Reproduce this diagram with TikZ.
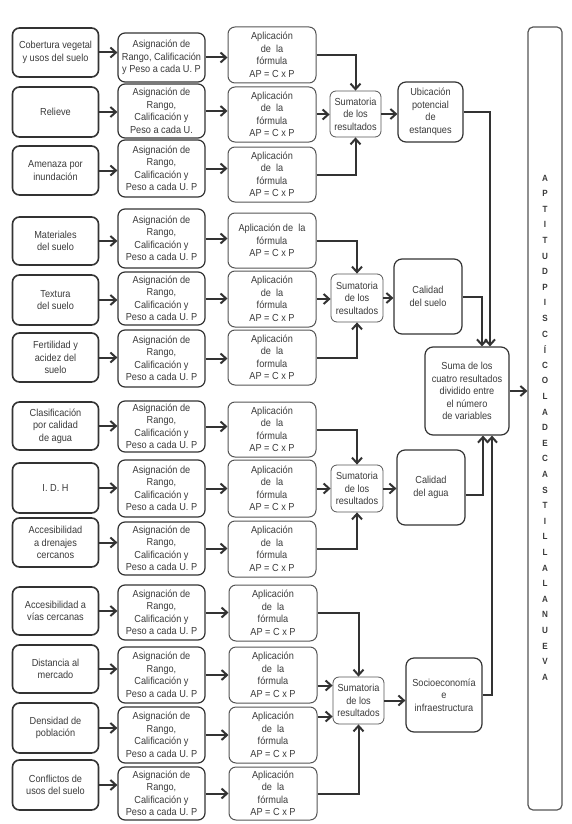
\documentclass[tikz,border=0pt]{standalone}
\usepackage{fontspec}
\setmainfont{Liberation Sans}[FakeStretch=0.9]
\usetikzlibrary{arrows.meta,calc}
\definecolor{lin}{HTML}{333333}
\definecolor{lin2}{HTML}{555555}
\definecolor{txt}{HTML}{3A3A3A}
\newcommand\asigtxt{Asignación de\\Rango,\\Calificación y\\Peso a cada U. P}
\newcommand\aplitxt{Aplicación\\de\ \ la\\fórmula\\AP = C x P}
% box from corner (x1,y1) to corner (x2,y2)
\newcommand\bx[7]{%
  \pgfmathsetmacro\bxw{#5-#3}\pgfmathsetmacro\bxh{#6-#4}%
  \pgfmathsetmacro\bxx{(#3+#5)/2}\pgfmathsetmacro\bxy{(#4+#6)/2}%
  \node[#1, minimum width=\bxw pt, minimum height=\bxh pt] (#2) at (\bxx,\bxy) {#7};}
\begin{document}
\begin{tikzpicture}[x=1pt,y=-1pt,
  every node/.style={font=\fontsize{10.2}{12.5}\selectfont, text=txt, align=center, inner sep=0pt},
  box/.style={draw=lin, rounded corners=7pt, line width=1pt},
  inbox/.style={box, line width=1.6pt},
  asbox/.style={box, line width=1.2pt},
  apbox/.style={box, draw=lin2, line width=1pt},
  sumbox/.style={box, draw=lin2, line width=0.8pt, rounded corners=6pt},
  resbox/.style={box, line width=1.2pt, rounded corners=8pt},
  bigbox/.style={box, draw=lin2, line width=1.2pt, rounded corners=5pt},
  letter/.style={font=\bfseries\fontsize{9}{10}\selectfont},
  arr/.style={draw=lin, line width=2pt, -{Straight Barb[length=5.5pt,width=10pt]}}]
\useasboundingbox (0,0) rectangle (571,824);

% ---- column 1: inputs
\bx{inbox}{i1}{12.5}{28}{98.5}{77}{Cobertura vegetal\\y usos del suelo}
\bx{inbox}{i2}{12.5}{87}{98.5}{137}{Relieve}
\bx{inbox}{i3}{12.5}{146}{98.5}{195}{Amenaza por\\inundación}
\bx{inbox}{i4}{12.5}{217}{98.5}{265}{Materiales\\del suelo}
\bx{inbox}{i5}{12.5}{275}{98.5}{325}{Textura\\del suelo}
\bx{inbox}{i6}{12.5}{333}{98.5}{382}{Fertilidad y\\acidez del\\suelo}
\bx{inbox}{i7}{12.5}{402}{98.5}{450}{Clasificación\\por calidad\\de agua}
\bx{inbox}{i8}{12.5}{463}{98.5}{513}{I. D. H}
\bx{inbox}{i9}{12.5}{518}{98.5}{567}{Accesibilidad\\a drenajes\\cercanos}
\bx{inbox}{i10}{12.5}{587}{98.5}{635}{Accesibilidad a\\vías cercanas}
\bx{inbox}{i11}{12.5}{645}{98.5}{693}{Distancia al\\mercado}
\bx{inbox}{i12}{12.5}{703}{98.5}{753}{Densidad de\\población}
\bx{inbox}{i13}{12.5}{760}{98.5}{810}{Conflictos de\\usos del suelo}

% ---- column 2: asignación
\bx{asbox}{a1}{118}{33}{205}{82}{Asignación de\\Rango, Calificación\\y Peso a cada U. P}
\bx{asbox}{a2}{118}{84}{205}{138}{Asignación de\\Rango,\\Calificación y\\Peso a cada U.}
\bx{asbox}{a3}{118}{140}{205}{197}{\asigtxt}
\bx{asbox}{a4}{118}{209}{205}{268}{\asigtxt}
\bx{asbox}{a5}{118}{272}{205}{325}{\asigtxt}
\bx{asbox}{a6}{118}{330}{205}{387}{\asigtxt}
\bx{asbox}{a7}{118}{401}{205}{452}{\asigtxt}
\bx{asbox}{a8}{118}{460}{205}{517}{\asigtxt}
\bx{asbox}{a9}{118}{522}{205}{575}{\asigtxt}
\bx{asbox}{a10}{118}{585}{205}{640}{\asigtxt}
\bx{asbox}{a11}{118}{647}{205}{703}{\asigtxt}
\bx{asbox}{a12}{118}{707}{205}{763}{\asigtxt}
\bx{asbox}{a13}{118}{767}{205}{820}{\asigtxt}

% ---- column 3: aplicación
\bx{apbox}{p1}{228}{27}{316}{83}{\aplitxt}
\bx{apbox}{p2}{228}{87}{316}{142}{\aplitxt}
\bx{apbox}{p3}{228}{147}{316}{202}{\aplitxt}
\bx{apbox}{p4}{228}{213}{316}{268}{Aplicación de\ \ la\\fórmula\\AP = C x P}
\bx{apbox}{p5}{228}{271}{316}{327}{\aplitxt}
\bx{apbox}{p6}{228}{330}{316}{385}{Aplicación\\de\ \ la\\formula\\AP = C x P}
\bx{apbox}{p7}{228}{402}{316}{457}{\aplitxt}
\bx{apbox}{p8}{228}{460}{316}{517}{\aplitxt}
\bx{apbox}{p9}{228}{521}{316}{577}{\aplitxt}
\bx{apbox}{p10}{229}{585}{317}{641}{\aplitxt}
\bx{apbox}{p11}{229}{647}{317}{703}{\aplitxt}
\bx{apbox}{p12}{229}{707}{317}{763}{\aplitxt}
\bx{apbox}{p13}{229}{767}{317}{820}{\aplitxt}

% ---- sumatorias
\bx{sumbox}{s1}{330}{91}{381}{137}{Sumatoria\\de los\\resultados}
\bx{sumbox}{s2}{331}{274}{383}{322}{Sumatoria\\de los\\resultados}
\bx{sumbox}{s3}{331}{465}{383}{512}{Sumatoria\\de los\\resultados}
\bx{sumbox}{s4}{333}{677}{384}{724}{Sumatoria\\de los\\resultados}

% ---- results
\bx{resbox}{ub}{398}{82}{463}{142}{Ubicación\\potencial\\de\\estanques}
\bx{resbox}{cs}{394}{259}{462}{334}{Calidad\\del suelo}
\bx{resbox}{ca}{397}{450}{465}{525}{Calidad\\del agua}
\bx{resbox}{so}{406}{658}{482}{732}{Socioeconomía\\e\\infraestructura}
\bx{resbox}{suma}{425}{347}{509}{435}{Suma de los\\cuatro resultados\\dividido entre\\el número\\de variables}

% ---- big title box
\bx{bigbox}{big}{528}{27}{562}{810}{}
\foreach \l [count=\k] in {A,P,T,I,T,U,D,P,I,S,C,Í,C,O,L,A,D,E,C,A,S,T,I,L,L,A,L,A,N,U,E,V,A}
  \node[letter] (t\k) at (545,{178+(\k-1)*15.6}) {\l};

% ---- row arrows
\foreach \i in {1,...,13}{
  \draw[arr] (i\i.east) -- (a\i.west |- i\i.east);
  \draw[arr] (a\i.east) -- (p\i.west |- a\i.east);
}

% ---- into sumatorias
\draw[arr] (p1.east) -| (s1.north);
\draw[arr] (p2.east) -- (s1.west |- p2.east);
\draw[arr] (p3.east) -| (s1.south);
\draw[arr] (p4.east) -| (s2.north);
\draw[arr] (p5.east) -- (s2.west |- p5.east);
\draw[arr] (p6.east) -| (s2.south);
\draw[arr] (p7.east) -| (s3.north);
\draw[arr] (p8.east) -- (s3.west |- p8.east);
\draw[arr] (p9.east) -| (s3.south);
\draw[arr] (p10.east) -| (s4.north);
\draw[arr] ($(p11.east |- s4.west)+(0,-15)$) -- ($(s4.west)+(0,-15)$);
\draw[arr] ($(p12.east |- s4.west)+(0,16)$) -- ($(s4.west)+(0,16)$);
\draw[arr] (p13.east) -| (s4.south);

% ---- sumatorias to results
\draw[arr] (s1.east) -- (ub.west |- s1.east);
\draw[arr] (s2.east) -- (cs.west |- s2.east);
\draw[arr] (s3.east) -- (ca.west |- s3.east);
\draw[arr] (s4.east) -- (so.west |- s4.east);

% ---- results to suma
\draw[arr] (ub.east) -| ($(suma.north)+(23,0)$);
\draw[arr] (cs.east) -| ($(suma.north)+(15,0)$);
\draw[arr] ($(ca.east)+(0,7)$) -| ($(suma.south)+(16,0)$);
\draw[arr] (so.east) -| ($(suma.south)+(25,0)$);
\draw[arr] (suma.east) -- (big.west |- suma.east);
\end{tikzpicture}
\end{document}
